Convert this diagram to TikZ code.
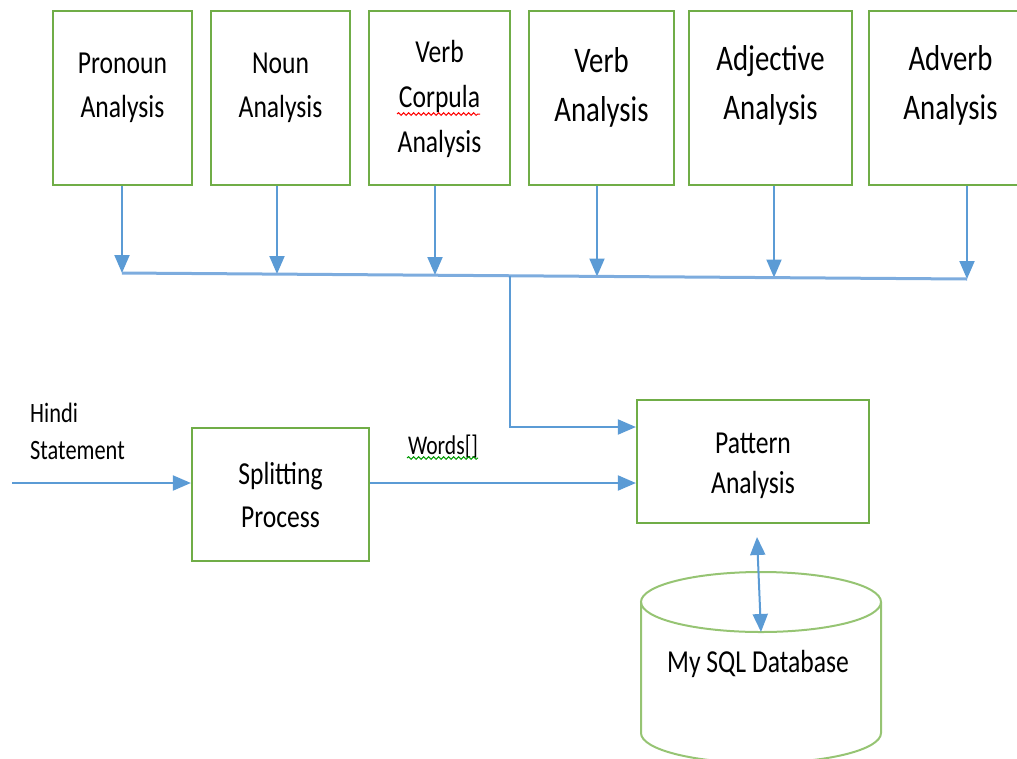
\documentclass[tikz,border=0pt]{standalone}
\usepackage{fontspec}
\setmainfont{Carlito}[FakeStretch=0.8]
\usetikzlibrary{arrows.meta}
\usetikzlibrary{decorations.pathmorphing}
\definecolor{boxgreen}{RGB}{112,173,71}
\definecolor{dbgreen}{RGB}{150,196,115}
\definecolor{flowblue}{RGB}{91,155,213}
\definecolor{busblue}{RGB}{125,172,222}

\begin{document}
\begin{tikzpicture}
	[
	x=1pt, y=-1pt,
	font=\fontsize{32}{44}\selectfont
	]
	\useasboundingbox (0,0) rectangle (1017,758);

	% Styles: boxes, texts and arrows
	\tikzstyle{box node}=[draw=boxgreen,line width=2.2,inner sep=0,align=center,minimum height=174];
	\tikzstyle{box text}=[align=center,inner sep=0];
	\tikzstyle{big text}=[box text,font=\fontsize{36}{49}\selectfont];
	\tikzstyle{flow}=[draw=flowblue,line width=2,-{Triangle[width=15,length=18]}];
	\tikzstyle{both flow}=[flow,{Triangle[width=15,length=18]}-{Triangle[width=15,length=18]}];
	\tikzstyle{bus}=[draw=busblue,line width=3];
	\tikzstyle{spell}=[decorate,decoration={snake,amplitude=1.3,segment length=5},line width=1];

	% The analysis boxes on top
	\node[box node,minimum width=139](pron) at (122.5,98){};
	\node[box node,minimum width=139](noun) at (280.5,98){};
	\node[box node,minimum width=141](vcop) at (439.5,98){};
	\node[box node,minimum width=145](verb) at (601.5,98){};
	\node[box node,minimum width=163](adj) at (770.5,98){};
	\node[box node,minimum width=163](adv) at (950.5,98){};
	\node[box text] at ([yshift=10]pron.center){Pronoun\\Analysis};
	\node[box text] at ([yshift=10]noun.center){Noun\\Analysis};
	\node[box text,font=\fontsize{32}{45}\selectfont] at ([yshift=-1]vcop.center){Verb\\Corpula\\Analysis};
	\node[big text] at ([yshift=11]verb.center){Verb\\Analysis};
	\node[big text] at ([yshift=13]adj.center){Adjective\\Analysis};
	\node[big text] at ([yshift=13]adv.center){Adverb\\Analysis};
	\draw[spell,red] (397,114) -- (480,114);

	% Arrows down to the collecting line
	\foreach \b/\x/\y in {pron/122/273, noun/277/274, vcop/435/275, verb/597/276.5, adj/774/277.5, adv/967/279}
		\draw[flow] (\x,0 |- \b.south) -- (\x,\y);
	\coordinate (busL) at (122,273);
	\coordinate (busR) at (967,279);
	\coordinate (busJ) at (510,276.3);
	\draw[bus] (busL) -- (busR);

	% Lower part
	\node[box node,minimum width=177,minimum height=133,font=\fontsize{32}{43}\selectfont](split) at (280.5,494.5){Splitting\\Process};
	\node[box node,minimum width=232,minimum height=123](pat) at (753,461.5){};
	\node[box text,font=\fontsize{32}{40}\selectfont] at ([yshift=-4]pat.center){Pattern\\Analysis};
	\node[align=left,anchor=west,inner sep=0,font=\fontsize{28}{37}\selectfont](hindi) at (30,431.5){Hindi\\Statement};
	\node[inner sep=0,font=\fontsize{27}{32}\selectfont](words) at (443,447){Words[]};
	\draw[spell,green!60!black] (407,458) -- (478,458);

	\coordinate (in) at (12,483);
	\coordinate (wl) at ([yshift=11.5]split.east);
	\draw[flow] (in) -- (in -| split.west);
	\draw[flow] (wl) -- (wl -| pat.west);
	\draw[flow] (busJ) |- ([yshift=34.5]pat.west);

	% Database
	\draw[draw=dbgreen,line width=2] (761,602) ellipse [x radius=120, y radius=30];
	\draw[draw=dbgreen,line width=2] (641,602) -- (641,733) arc[start angle=180,end angle=0,x radius=120,y radius=30] -- (881,602);
	\node(db) at (758,664){My SQL Database};
	\coordinate (patbot) at (757,537);
	\coordinate (dbtop) at (761,632);
	\draw[both flow] (patbot) -- (dbtop);
\end{tikzpicture}
\end{document}
